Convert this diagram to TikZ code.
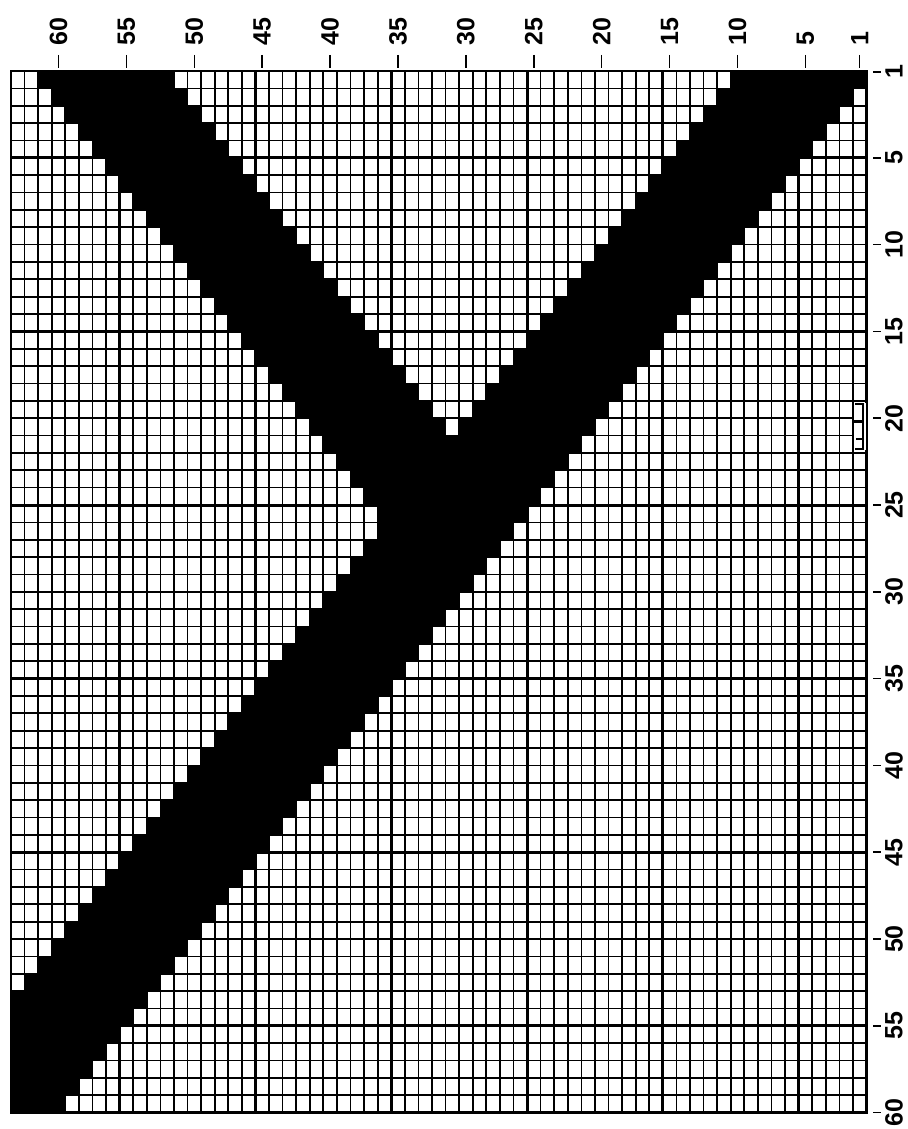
\documentclass[tikz,border=0pt]{standalone}
\usepackage{fontspec}
\setmainfont{Liberation Sans}
\begin{document}
\begin{tikzpicture}[x=1pt,y=-1pt,
  gridthin/.style={line width=1.7pt},
  gridthick/.style={line width=3pt},
  border/.style={line width=2.8pt},
  lbl/.style={font=\fontsize{25}{25}\selectfont\bfseries, inner sep=0pt, rotate=90},
  tickmark/.style={line width=1.5pt}]
\useasboundingbox (0,0) rectangle (907,1129);
\fill[white] (0,0) rectangle (907,1129);
% thin grid
\foreach \c in {1,...,62} \draw[gridthin] ({11+13.58*\c},71) -- ({11+13.58*\c},1112.6);
\foreach \r in {1,...,59} \draw[gridthin] (11,{71+17.36*\r}) -- (866.5,{71+17.36*\r});
% thick grid
\foreach \c in {8,18,...,58} \draw[gridthick] ({11+13.58*\c},71) -- ({11+13.58*\c},1112.6);
\foreach \r in {5,15,...,55} \draw[gridthick] (11,{71+17.36*\r}) -- (866.5,{71+17.36*\r});
% black band (top right to bottom left)
\foreach \r in {0,...,59} {
  \pgfmathtruncatemacro\bs{max(0,53-\r)}
  \pgfmathtruncatemacro\be{63-\r}
  \fill ({11+13.58*\bs},{71+17.36*\r-0.4}) rectangle ({11+13.58*\be},{71+17.36*(\r+1)+0.4});
}
% black arm (top left to junction)
\foreach \r in {0,...,25} {
  \fill ({11+13.58*(2+\r)},{71+17.36*\r-0.4}) rectangle ({11+13.58*(12+\r)},{71+17.36*(\r+1)+0.4});
}
% border
\draw[border] (11,71) rectangle (866.5,1112.6);
% scan patch near row 20
\fill[white] (853.8,403) rectangle (865.5,450);
\draw[gridthin] (863,403) -- (863,450);
\draw[gridthin] (855,404) -- (863,404);
\draw[gridthin] (855,449) -- (863,449);
\draw[gridthick] (853,421) -- (863,421);
\draw[gridthin] (856,439) -- (863,439);
% top labels
\foreach \k in {1,5,10,...,60} {
  \pgfmathsetmacro\xx{866.5-13.58*(\k-0.5)}
  \draw[tickmark] (\xx,55) -- (\xx,68);
  \node[lbl, anchor=west] (top\k) at (\xx,46) {\k};
}
\fill (top25.east) ++(4,2) circle (1.2);
% right labels
\foreach \k in {1,5,10,...,60} {
  \pgfmathsetmacro\yy{\k==1 ? 72 : 71+17.36*\k}
  \draw[tickmark] (873,\yy) -- (881,\yy);
  \node[lbl] (right\k) at (894,\yy) {\k};
}
\end{tikzpicture}
\end{document}
